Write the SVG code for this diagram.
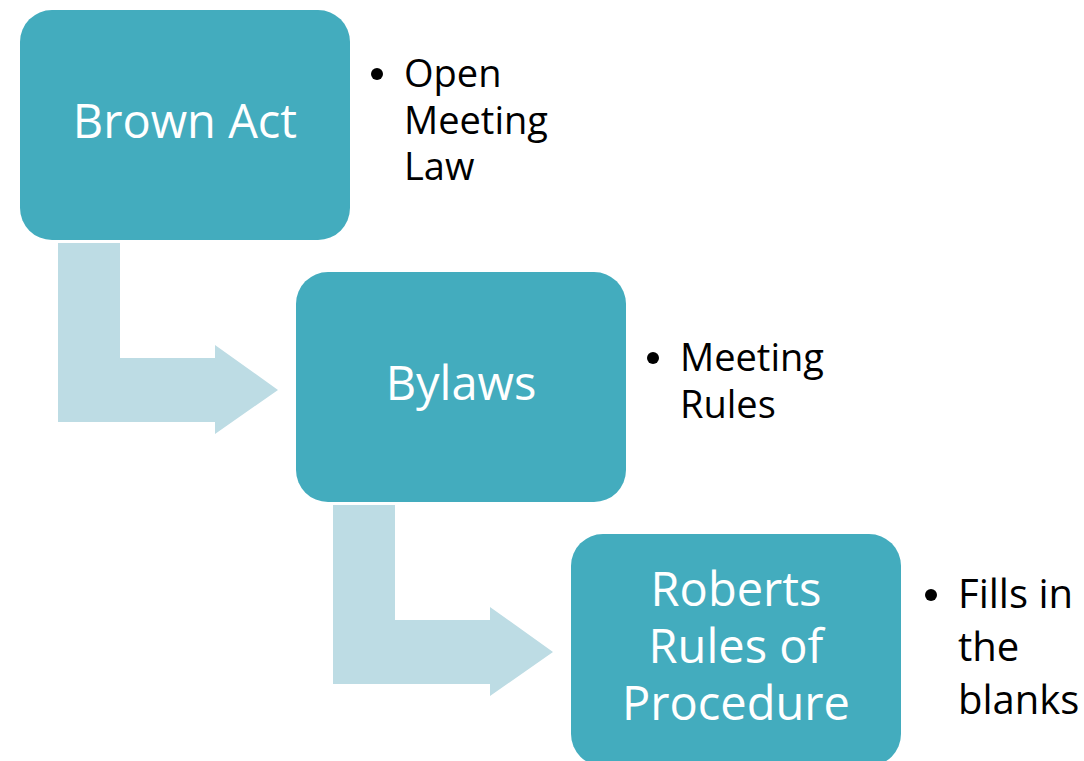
<svg xmlns="http://www.w3.org/2000/svg" width="1084" height="761" viewBox="0 0 1084 761">
  <style>
    .box { fill: #43acbe; }
    .bend { fill: #bddce4; }
    .label { font-family: "Open Sans", "Noto Sans", sans-serif; font-size: 47px; fill: #ffffff; text-anchor: middle; }
    .note { font-family: "Open Sans", "Noto Sans", sans-serif; font-size: 38px; fill: #000000; }
    .note.big { font-size: 40px; }
    .dot { fill: #000000; }
  </style>
  <defs>
    <!-- L-shaped bent arrow, origin at top-left of the vertical bar -->
    <path id="bent-arrow" d="M0,0 H62 V115 H157 V102 L220,147 L157,191 V179 H0 Z"/>
  </defs>
  <rect width="1084" height="761" fill="#ffffff"/>

  <g id="connectors">
    <use href="#bent-arrow" class="bend" x="58" y="243"/>
    <use href="#bent-arrow" class="bend" x="333" y="505"/>
  </g>

  <g id="brown-act">
    <rect class="box" x="20" y="10" width="330" height="230" rx="32"/>
    <text class="label" x="185" y="138">Brown Act</text>
  </g>
  <g id="brown-act-note">
    <circle class="dot" cx="377" cy="74" r="6"/>
    <text class="note" x="404" y="87">Open</text>
    <text class="note" x="404" y="134">Meeting</text>
    <text class="note" x="404" y="180">Law</text>
  </g>

  <g id="bylaws">
    <rect class="box" x="296" y="272" width="330" height="230" rx="32"/>
    <text class="label" x="461" y="400">Bylaws</text>
  </g>
  <g id="bylaws-note">
    <circle class="dot" cx="653" cy="358" r="6"/>
    <text class="note" x="680" y="371">Meeting</text>
    <text class="note" x="680" y="418">Rules</text>
  </g>

  <g id="roberts-rules">
    <rect class="box" x="571" y="534" width="330" height="232" rx="32"/>
    <text class="label" x="736" y="606">Roberts</text>
    <text class="label" x="736" y="663">Rules of</text>
    <text class="label" x="736" y="720">Procedure</text>
  </g>
  <g id="roberts-rules-note">
    <circle class="dot" cx="931" cy="595" r="6"/>
    <text class="note big" x="958" y="608">Fills in</text>
    <text class="note big" x="958" y="661">the</text>
    <text class="note big" x="958" y="714">blanks</text>
  </g>
</svg>
